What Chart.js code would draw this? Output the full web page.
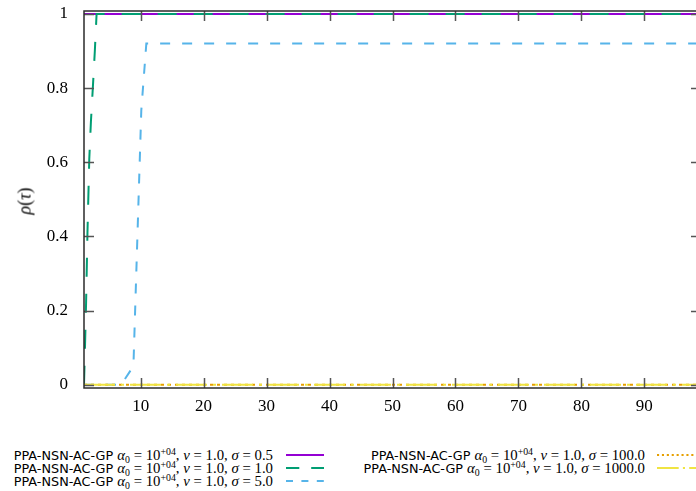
<!DOCTYPE html>
<html>
<head>
<meta charset="utf-8">
<script src="https://cdn.jsdelivr.net/npm/chart.js@4/dist/chart.umd.min.js"></script>
<style>
  html, body { margin:0; padding:0; width:696px; height:491px; overflow:hidden; background:#fff; }
  #wrap { position:absolute; left:0; top:0; width:706px; height:425px; }
  .ytitle { position:absolute; left:25px; top:201px; transform:translate(-50%,-50%) rotate(-90deg);
            font-family:"Liberation Serif", serif; font-size:18px; white-space:nowrap; color:#000; }
  .row { position:absolute; white-space:nowrap; line-height:14px; height:14px; text-align:right; color:#000; }
  .sf { font-family:"DejaVu Sans", sans-serif; font-size:12.8px; }
  .m { font-family:"Liberation Serif", serif; font-size:14.8px; }
  .m sub, .m sup { font-size:9.8px; line-height:0; }
  .m sup { vertical-align:5px; }
  .m sub { vertical-align:-3px; }
  svg.samp { position:absolute; overflow:visible; }
</style>
</head>
<body>
<div id="wrap"><canvas id="c" width="706" height="425"></canvas></div>
<div class="ytitle"><i>ρ</i>(<i>τ</i>)</div>
<div id="legend"></div>
<script>
// ---- data ----
const xTicks = [10, 20, 30, 40, 50, 60, 70, 80, 90];
const yTicks = [0, 0.2, 0.4, 0.6, 0.8, 1];
const sigmas = ['0.5', '1.0', '5.0', '100.0', '1000.0'];

const s05_x = [1, 99];
const s05_y = [1, 1];
const s1_x = [1, 1.17, 1.33, 1.55, 1.84, 2.1, 2.4, 2.72, 3.0, 99];
const s1_y = [0, 0.11, 0.22, 0.41, 0.61, 0.71, 0.80, 0.90, 1.0, 1.0];
const s5_x = [1, 6.9, 8.85, 10.1, 10.9, 99];
const s5_y = [0, 0, 0.05, 0.74, 0.92, 0.92];
const s100_x = [1, 99];
const s100_y = [0, 0];
const s1000_x = [1, 99];
const s1000_y = [0, 0];

const seriesX = [s05_x, s1_x, s5_x, s100_x, s1000_x];
const seriesY = [s05_y, s1_y, s5_y, s100_y, s1000_y];
const colors = ['#9400d3', '#009e73', '#56b4e9', '#e69f00', '#f0e442'];
const dashes = [[], [19, 17], [10, 12], [3, 4], [31, 6, 3, 6]];

const toPts = (xs, ys) => xs.map((x, i) => ({ x: x, y: ys[i] }));

const datasets = seriesX.map((xs, i) => ({
  label: sigmas[i],
  data: toPts(xs, seriesY[i]),
  borderColor: colors[i],
  borderWidth: 2,
  borderDash: dashes[i],
  borderCapStyle: 'butt',
  pointRadius: 0,
  tension: 0,
  fill: false,
  order: 5 - i
}));

const framePlugin = {
  id: 'frame',
  afterDatasetsDraw(chart) {
    const { ctx, chartArea: a, scales } = chart;
    ctx.save();
    ctx.strokeStyle = '#555';
    ctx.lineWidth = 1.5;
    const L = 10;
    xTicks.forEach(v => {
      const px = Math.round(scales.x.getPixelForValue(v)) + 0.5;
      ctx.beginPath();
      ctx.moveTo(px, a.bottom); ctx.lineTo(px, a.bottom - L);
      ctx.moveTo(px, a.top); ctx.lineTo(px, a.top + L);
      ctx.stroke();
    });
    yTicks.forEach(v => {
      const py = Math.round(scales.y.getPixelForValue(v)) + 0.5;
      ctx.beginPath();
      ctx.moveTo(a.left, py); ctx.lineTo(a.left + L, py);
      ctx.moveTo(a.right, py); ctx.lineTo(a.right - L, py);
      ctx.stroke();
    });
    ctx.strokeStyle = '#2b2b2b';
    ctx.lineWidth = 1.5;
    ctx.strokeRect(a.left, a.top, a.right - a.left, a.bottom - a.top);
    ctx.restore();
  }
};

new Chart(document.getElementById('c'), {
  type: 'line',
  data: { datasets: datasets },
  options: {
    responsive: false,
    animation: false,
    devicePixelRatio: 1,
    layout: { padding: { top: 11, right: 5, left: 0, bottom: 0 } },
    plugins: { legend: { display: false }, tooltip: { enabled: false } },
    scales: {
      x: {
        type: 'linear', min: 1, max: 99,
        grid: { display: false, drawTicks: false },
        border: { display: false },
        afterBuildTicks: s => { s.ticks = xTicks.map(v => ({ value: v })); },
        afterFit: s => { s.height = 37; s.paddingLeft = 0; s.paddingRight = 0; },
        ticks: { padding: 8, color: '#000', maxRotation: 0,
                 font: { family: 'Liberation Serif', size: 17 } }
      },
      y: {
        type: 'linear', min: -0.009, max: 1.008,
        grid: { display: false, drawTicks: false },
        border: { display: false },
        afterBuildTicks: s => { s.ticks = yTicks.map(v => ({ value: v })); },
        afterFit: s => { s.width = 84; s.paddingTop = 0; s.paddingBottom = 0; },
        ticks: { padding: 16, color: '#000',
                 callback: v => (v === 0 ? '0' : v === 1 ? '1' : v.toFixed(1)),
                 font: { family: 'Liberation Serif', size: 17 } }
      }
    }
  },
  plugins: [framePlugin]
});

// ---- legend (HTML text + sample strokes) ----
const legend = document.getElementById('legend');
const rowsY = [455, 467.8, 480.6];
const cols = [
  { textRight: 273, sx1: 286, sx2: 324, items: [0, 1, 2] },
  { textRight: 645, sx1: 657, sx2: 720, items: [3, 4] }
];
cols.forEach(col => {
  col.items.forEach((si, r) => {
    const cy = rowsY[r];
    const row = document.createElement('div');
    row.className = 'row';
    row.style.left = '0px';
    row.style.width = col.textRight + 'px';
    row.style.top = (cy - 7) + 'px';
    row.innerHTML = '<span class="sf">PPA-NSN-AC-GP</span> <span class="m"><i>α</i><sub>0</sub> = 10<sup>+04</sup>, <i>ν</i> = 1.0, <i>σ</i> = ' + sigmas[si] + '</span>';
    legend.appendChild(row);
    const svgNS = 'http://www.w3.org/2000/svg';
    const svg = document.createElementNS(svgNS, 'svg');
    svg.setAttribute('class', 'samp');
    svg.setAttribute('width', col.sx2 - col.sx1);
    svg.setAttribute('height', 4);
    svg.style.left = col.sx1 + 'px';
    svg.style.top = (cy - 2) + 'px';
    const ln = document.createElementNS(svgNS, 'line');
    ln.setAttribute('x1', 0); ln.setAttribute('y1', 2);
    ln.setAttribute('x2', col.sx2 - col.sx1); ln.setAttribute('y2', 2);
    ln.setAttribute('stroke', colors[si]);
    ln.setAttribute('stroke-width', 2);
    if (dashes[si].length) ln.setAttribute('stroke-dasharray', dashes[si].map(d => d * 0.7).join(' '));
    svg.appendChild(ln);
    legend.appendChild(svg);
  });
});
</script>
</body>
</html>
